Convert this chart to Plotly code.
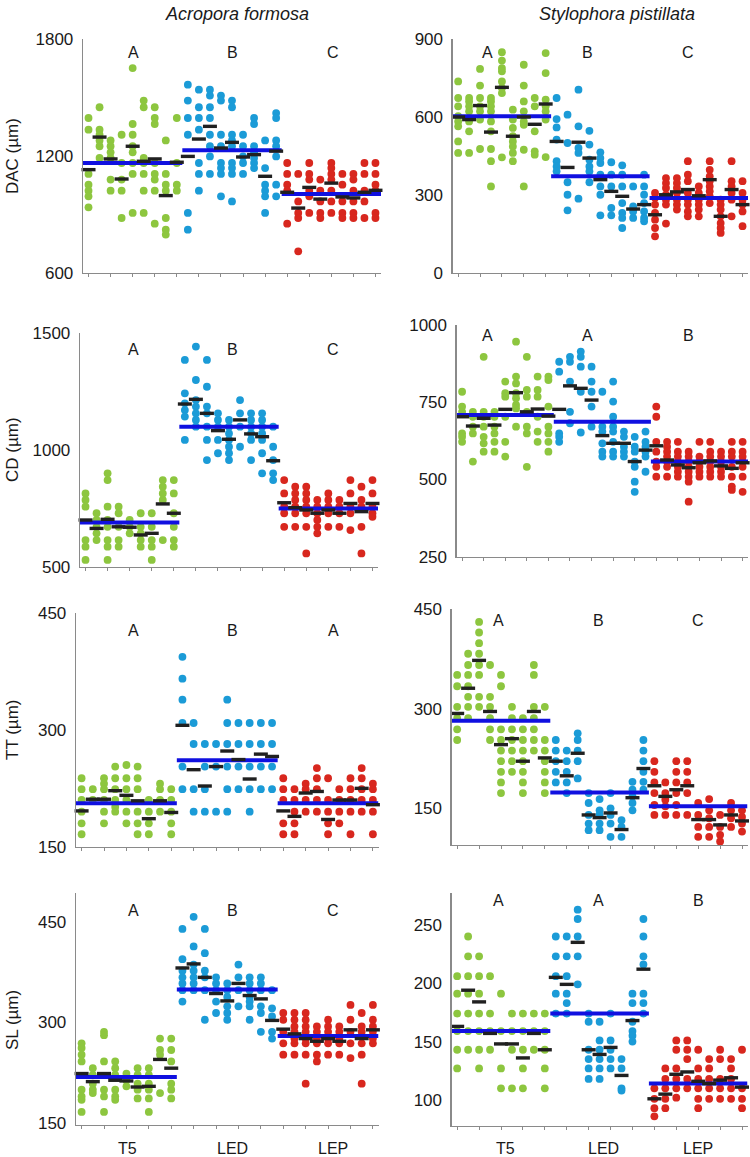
import plotly.graph_objects as go

W, H = 750, 1157

groups = ["T5", "LED", "LEP"]

# ---------------- Acropora formosa DAC ----------------
af_dac = [
    [1395, 1335, 1108, 1053, 1022, 993, 937],
    [1450, 1335, 1309, 1280, 1250, 1190],
    [1280, 1250, 1219, 1190, 1079, 1022],
    [1309, 1164, 1079, 1022, 882],
    [1651, 1364, 1309, 1250, 1219, 1164, 1108, 908],
    [1484, 1450, 1190, 1164, 1108, 1022, 908],
    [1450, 1395, 1364, 1164, 1108, 1079, 1022, 853],
    [1280, 1108, 1053, 1022, 882, 822, 797],
    [1395, 1164, 1053, 1022],
    [1566, 1484, 1395, 1309, 908, 822],
    [1540, 1450, 1395, 1335, 1164, 1108, 1022],
    [1540, 1510, 1450, 1395, 1309, 1250, 1198, 1108],
    [1510, 1484, 1309, 1250, 1164, 1138, 1108, 993],
    [1484, 1450, 1309, 1280, 1250, 1164, 1138, 1108, 967],
    [1309, 1250, 1198, 1164, 1108],
    [1395, 1364, 1250, 1219, 1190, 1164, 1138],
    [1280, 1138, 1053, 1022, 993, 908],
    [1420, 1395, 1280, 1250, 1198, 1053, 993],
    [1164, 1108, 1053, 1022, 853],
    [1108, 967, 908, 882, 711],
    [1164, 1108, 1079, 1022, 993, 908],
    [1079, 1022, 967, 908, 882],
    [1164, 1138, 1108, 1079, 1022, 967, 908],
    [1108, 1053, 967, 908, 882],
    [1108, 1079, 1022, 967, 908, 882],
    [1164, 1108, 1022, 967, 882],
    [1164, 1108, 1053, 1022, 908, 882],
]
af_dac_means = [1130, 1297, 1185, 1082, 1250, 1173, 1185, 997, 1168,
                1198, 1287, 1352, 1241, 1270, 1195, 1207, 1096, 1225,
                1014, 933, 1039, 979, 1061, 990, 985, 1014, 1024]
af_dac_group = [1164, 1229, 1005]
af_dac_letters = ["A", "B", "C"]

# ---------------- Stylophora pistillata DAC ----------------
sp_dac = [
    [737, 673, 641, 603, 583, 564, 506, 462],
    [673, 660, 641, 622, 583, 545, 462],
    [785, 721, 673, 641, 622, 590, 477],
    [673, 660, 641, 622, 583, 545, 477, 430, 333],
    [849, 817, 788, 776, 737, 712, 692, 445],
    [628, 590, 558, 526, 506, 487, 462, 430],
    [801, 721, 660, 622, 583, 570, 474, 333],
    [673, 641, 545, 468, 455],
    [846, 769, 667, 641, 622, 590, 446],
    [673, 592, 560, 513, 430, 410, 391],
    [609, 500, 349, 301, 241],
    [705, 564, 481, 462, 286],
    [547, 494, 436, 410, 391, 349],
    [464, 442, 423, 378, 333, 301, 222],
    [426, 378, 333, 250, 222],
    [414, 378, 333, 269, 231, 212, 173],
    [333, 256, 237, 212],
    [378, 333, 301, 269, 237, 212, 199],
    [308, 289, 263, 231, 205, 173, 141],
    [365, 346, 327, 301, 282, 263, 190],
    [365, 346, 327, 308, 282, 263, 244],
    [430, 378, 353, 308, 282, 263, 237, 218],
    [333, 308, 282, 263, 244, 218],
    [430, 397, 372, 353, 333, 314, 295, 269],
    [282, 263, 244, 218, 192, 173, 154],
    [430, 353, 333, 308, 282, 218],
    [353, 308, 282, 263, 237, 180],
]
sp_dac_means = [600, 590, 644, 542, 714, 526, 600, 572, 650,
                506, 406, 503, 442, 359, 314, 295, 246, 263,
                224, 301, 312, 321, 297, 359, 218, 321, 263]
sp_dac_group = [603, 372, 288]
sp_dac_letters = ["A", "B", "C"]

# ---------------- Acropora formosa CD ----------------
af_cd = [
    [814, 786, 757, 614, 586, 529],
    [729, 700, 671, 643, 614],
    [900, 871, 757, 700, 671, 614, 586, 529],
    [757, 729, 671, 614, 586],
    [700, 671, 643],
    [729, 671, 643, 614, 586],
    [729, 671, 614, 586, 529],
    [871, 843, 814, 786, 614],
    [871, 814, 729, 671, 614, 586],
    [1386, 1243, 1200, 1171, 1143, 1043],
    [1443, 1300, 1214, 1186, 1157, 1129, 1100],
    [1386, 1271, 1186, 1157, 1100, 1043, 957],
    [1157, 1129, 1100, 1043, 986],
    [1129, 1100, 1071, 1043, 1014, 986, 957],
    [1214, 1157, 1100, 1014],
    [1157, 1129, 1100, 1071, 1043, 957],
    [1157, 1129, 1100, 1071, 1043, 986, 900],
    [1100, 1014, 957, 900, 871],
    [871, 814, 757, 729, 671],
    [843, 814, 786, 757, 729, 671],
    [843, 814, 786, 757, 729, 671, 557],
    [786, 757, 729, 700, 671, 643],
    [814, 786, 757, 729, 671],
    [786, 757, 729, 671],
    [871, 814, 757, 729, 657],
    [843, 786, 757, 671, 557],
    [871, 814, 757, 729, 714],
]
af_cd_means = [700, 664, 703, 671, 669, 636, 643, 769, 729,
               1197, 1217, 1157, 1083, 1046, 1129, 1069, 1057, 954,
               774, 753, 743, 729, 743, 729, 771, 736, 771]
af_cd_group = [689, 1100, 749]
af_cd_letters = ["A", "B", "C"]

# ---------------- Stylophora pistillata CD ----------------
sp_cd = [
    [784, 736, 719, 649, 638, 622],
    [719, 703, 671, 649, 558],
    [897, 719, 703, 671, 638, 617, 590],
    [719, 703, 671, 649, 622, 590],
    [817, 779, 768, 703, 622, 574],
    [946, 833, 811, 779, 763, 741, 730, 671],
    [897, 790, 768, 719, 671, 649, 541],
    [833, 790, 768, 703, 655, 622],
    [833, 822, 736, 671, 649, 622, 590],
    [881, 849, 649, 638, 622],
    [897, 881, 817, 719, 682],
    [914, 897, 865, 784, 652],
    [865, 817, 784, 736, 671],
    [784, 671, 655, 617, 590, 574],
    [817, 752, 703, 671, 655, 622, 590, 574],
    [655, 638, 606, 590, 574],
    [638, 606, 590, 558, 541, 493, 460],
    [655, 622, 606, 590, 574, 525],
    [736, 703, 622, 590, 558, 541, 509],
    [622, 606, 590, 574, 558, 541, 509],
    [622, 590, 574, 558, 541, 525, 509],
    [590, 574, 558, 541, 525, 509, 493, 428],
    [622, 574, 558, 541, 525, 509],
    [622, 590, 574, 558, 541, 525, 509],
    [590, 574, 558, 541, 525, 509],
    [622, 590, 574, 541, 509, 477, 466],
    [622, 590, 574, 558, 541, 509, 460],
]
sp_cd_means = [703, 673, 698, 676, 727, 781, 719, 728, 705,
               727, 803, 795, 757, 642, 617, 617, 558, 595,
               609, 563, 547, 538, 554, 560, 544, 536, 554]
sp_cd_group = [709, 687, 558]
sp_cd_letters = ["A", "A", "B"]

# ---------------- Acropora formosa TT ----------------
af_tt = [
    [238, 224, 210, 195, 180, 166],
    [224, 210],
    [238, 231, 224, 210, 195, 180],
    [253, 238, 224, 210, 201, 195],
    [255, 238, 224, 210, 195, 180],
    [253, 238, 224, 195, 180, 166],
    [210, 195, 180, 166],
    [231, 224, 210, 195],
    [224, 210, 195, 180, 166],
    [394, 366, 339, 309, 253, 224],
    [309, 282, 224, 195],
    [282, 253, 224, 195],
    [282, 253, 195],
    [339, 309, 282, 253, 224, 195],
    [309, 282, 253, 224],
    [309, 282, 253, 224, 195],
    [309, 282, 253, 224],
    [309, 282, 253, 224],
    [238, 224, 210, 180, 166],
    [224, 210, 195, 180, 166],
    [231, 224, 210, 195],
    [251, 238, 224, 210, 195],
    [238, 210, 195, 180, 166],
    [224, 210, 195, 180],
    [238, 224, 210, 195, 166],
    [251, 238, 224, 210, 195],
    [231, 224, 210, 195, 166],
]
af_tt_means = [196, 211, 211, 222, 216, 209, 186, 209, 194,
               306, 249, 228, 253, 273, 262, 237, 269, 266,
               196, 189, 219, 221, 185, 210, 210, 225, 204]
af_tt_group = [206, 261, 206]
af_tt_letters = ["A", "B", "A"]

# ---------------- Stylophora pistillata TT ----------------
sp_tt = [
    [351, 334, 303, 286, 269, 253],
    [383, 366, 351, 334, 318, 303, 286],
    [431, 415, 399, 383, 366, 351, 318, 303],
    [366, 318, 303, 286, 269, 253],
    [351, 334, 269, 253, 237, 221, 205, 189, 173],
    [303, 286, 269, 253, 237, 221, 205],
    [286, 269, 253, 237, 221, 205, 189, 173],
    [366, 351, 303, 286, 269, 253, 237],
    [303, 253, 237, 221, 205, 189, 173],
    [253, 237, 221, 205, 189],
    [237, 221, 205, 189, 173],
    [263, 253, 237, 221, 195],
    [173, 158, 140, 127, 117],
    [164, 147, 140, 127, 117],
    [173, 150, 140, 127, 107],
    [132, 122, 107],
    [190, 178, 168, 158, 147],
    [253, 237, 221, 205, 190, 178],
    [221, 205, 189, 173, 155, 140],
    [189, 173, 163, 153, 140],
    [221, 205, 189, 173, 155, 140],
    [221, 205, 189, 173, 140],
    [158, 140, 122, 107],
    [164, 147, 135, 122, 107],
    [140, 122, 110, 100],
    [158, 147, 135, 122],
    [147, 137, 127, 115],
]
sp_tt_means = [293, 331, 373, 296, 246, 255, 221, 296, 226,
               221, 199, 233, 140, 136, 143, 118, 166, 210,
               184, 168, 178, 184, 133, 133, 125, 140, 131]
sp_tt_group = [282, 174, 153]
sp_tt_letters = ["A", "B", "C"]

# ---------------- Acropora formosa SL ----------------
af_sl = [
    [269, 262, 252, 242, 200, 190, 185, 167],
    [232, 222, 209, 200, 195],
    [286, 281, 242, 200, 190, 167],
    [242, 232, 222, 200, 190, 185],
    [224, 214, 205],
    [232, 222, 209, 200, 187],
    [232, 222, 209, 200, 187, 167],
    [276, 259, 252, 195],
    [276, 259, 242, 209, 200, 187],
    [439, 394, 377, 367, 358, 348, 331],
    [457, 413, 386, 377, 367, 358, 348],
    [439, 403, 377, 367, 348, 304],
    [367, 358, 348, 331, 314],
    [358, 348, 338, 324, 314, 304],
    [386, 367, 348, 324],
    [367, 358, 348, 338, 331, 324, 304],
    [367, 358, 348, 324, 314, 286],
    [348, 321, 309, 286, 276],
    [314, 304, 286, 269, 252],
    [314, 304, 294, 286, 276, 269, 252],
    [314, 304, 294, 286, 276, 269, 252, 209],
    [294, 286, 276, 269, 252, 242],
    [304, 294, 286, 276, 269, 252],
    [294, 286, 276, 269, 252],
    [326, 304, 286, 269, 247],
    [314, 294, 286, 269, 252, 209],
    [326, 304, 294, 286, 276, 269],
]
af_sl_means = [224, 212, 224, 214, 213, 204, 205, 245, 232,
               381, 387, 367, 343, 332, 358, 340, 335, 303,
               290, 283, 276, 272, 276, 272, 289, 276, 289]
af_sl_group = [219, 349, 280]
af_sl_letters = ["A", "B", "C"]

# ---------------- Stylophora pistillata SL ----------------
sp_sl = [
    [206, 191, 174, 159, 143, 127],
    [240, 223, 206, 191, 174, 159, 143],
    [223, 206, 191, 174, 159, 143, 127],
    [206, 174, 159, 143],
    [191, 159, 127, 110],
    [174, 159, 143, 110],
    [174, 159, 143, 127, 110],
    [174, 159, 143],
    [174, 159, 143, 127, 110],
    [240, 223, 206, 191, 174],
    [240, 223, 206, 191, 183, 174],
    [263, 255, 240, 223, 199],
    [174, 167, 143, 135, 127, 118],
    [167, 151, 143, 135, 127, 118],
    [174, 151, 143, 135, 127],
    [135, 127, 110, 108],
    [191, 183, 167, 159, 155, 150],
    [255, 240, 223, 216, 191, 183, 174],
    [110, 101, 93, 86],
    [127, 118, 110, 101, 93],
    [151, 143, 127, 118, 110, 102],
    [151, 143, 135, 118, 110],
    [143, 127, 118, 110, 101, 93],
    [135, 127, 118, 110, 101],
    [143, 135, 118, 110, 101],
    [135, 127, 118, 110, 101],
    [143, 110, 101, 93],
]
sp_sl_means = [163, 194, 184, 157, 148, 148, 136, 157, 143,
               205, 199, 235, 143, 139, 145, 121, 168, 212,
               101, 105, 122, 124, 116, 114, 117, 119, 111]
sp_sl_group = [159, 174, 114]
sp_sl_letters = ["A", "A", "B"]

species = ["Acropora formosa", "Stylophora pistillata"]
y_titles = ["DAC (µm)", "CD (µm)", "TT (µm)", "SL (µm)"]

# ---------------- layout configuration (pixels) ----------------
panels = [
    dict(cols=af_dac, means=af_dac_means, grp=af_dac_group, letters=af_dac_letters,
         box=(83, 381, 39, 273), yr=[600, 1800], ticks=[600, 1200, 1800],
         lx=[133, 233, 333], ly=52),
    dict(cols=sp_dac, means=sp_dac_means, grp=sp_dac_group, letters=sp_dac_letters,
         box=(452.7, 748, 39, 273), yr=[0, 900], ticks=[0, 300, 600, 900],
         lx=[487, 587, 688], ly=52),
    dict(cols=af_cd, means=af_cd_means, grp=af_cd_group, letters=af_cd_letters,
         box=(80, 378, 333.3, 566.7), yr=[500, 1500], ticks=[500, 1000, 1500],
         lx=[133, 233, 333], ly=350),
    dict(cols=sp_cd, means=sp_cd_means, grp=sp_cd_group, letters=sp_cd_letters,
         box=(456.7, 748, 325, 556.7), yr=[250, 1000], ticks=[250, 500, 750, 1000],
         lx=[487, 587, 688], ly=335),
    dict(cols=af_tt, means=af_tt_means, grp=af_tt_group, letters=af_tt_letters,
         box=(76, 378.5, 613.3, 846.7), yr=[150, 450], ticks=[150, 300, 450],
         lx=[133, 233, 333], ly=630),
    dict(cols=sp_tt, means=sp_tt_means, grp=sp_tt_group, letters=sp_tt_letters,
         box=(451.7, 747.5, 609.3, 845), yr=[94.7, 450], ticks=[150, 300, 450],
         lx=[498, 598, 698], ly=620),
    dict(cols=af_sl, means=af_sl_means, grp=af_sl_group, letters=af_sl_letters,
         box=(76, 378.5, 893.3, 1125), yr=[147.5, 492], ticks=[150, 300, 450],
         lx=[133, 233, 333], ly=910),
    dict(cols=sp_sl, means=sp_sl_means, grp=sp_sl_group, letters=sp_sl_letters,
         box=(451.7, 747.5, 893.3, 1126), yr=[77.7, 277], ticks=[100, 150, 200, 250],
         lx=[498, 598, 698], ly=900),
]

colors = ["#8DC63F", "#1B9BD7", "#D8271E"]
FONT = "Liberation Sans, Arial, sans-serif"
TXT = "#1a1a1a"
AXC = "#8a8a8a"

fig = go.Figure()
annotations = []
layout_axes = {}

for i, p in enumerate(panels):
    n = i + 1
    xa = "x" if n == 1 else f"x{n}"
    ya = "y" if n == 1 else f"y{n}"
    l, r, t, b = p["box"]
    # dots per group
    for g in range(3):
        xs, ys = [], []
        for c in range(9):
            ci = g * 9 + c
            for v in p["cols"][ci]:
                xs.append(ci + 1)
                ys.append(v)
        fig.add_trace(go.Scatter(
            x=xs, y=ys, mode="markers", xaxis=xa, yaxis=ya, showlegend=False,
            marker=dict(size=7.8, color=colors[g], line=dict(width=0)),
            hoverinfo="skip", cliponaxis=False))
    # group mean lines
    lx, ly = [], []
    for g in range(3):
        lx += [g * 9 + 0.5, g * 9 + 9.5, None]
        ly += [p["grp"][g], p["grp"][g], None]
    fig.add_trace(go.Scatter(
        x=lx, y=ly, mode="lines", xaxis=xa, yaxis=ya, showlegend=False,
        line=dict(color="#1010E0", width=4), hoverinfo="skip"))
    # colony means
    fig.add_trace(go.Scatter(
        x=list(range(1, 28)), y=p["means"], mode="markers", xaxis=xa, yaxis=ya,
        showlegend=False, hoverinfo="skip", cliponaxis=False,
        marker=dict(symbol="line-ew", size=10, line=dict(width=3.4, color="#202020"))))

    xk = "xaxis" if n == 1 else f"xaxis{n}"
    yk = "yaxis" if n == 1 else f"yaxis{n}"
    layout_axes[xk] = dict(
        domain=[l / W, r / W], range=[0.5, 27.5], anchor=ya, automargin=False,
        showline=True, linecolor=AXC, linewidth=1.3, showgrid=False, zeroline=False,
        tickvals=list(range(1, 28, 2)), ticks="outside", ticklen=3, tickwidth=1,
        tickcolor=AXC, showticklabels=False, fixedrange=True)
    layout_axes[yk] = dict(
        domain=[1 - b / H, 1 - t / H], range=p["yr"], anchor=xa, automargin=False,
        showline=True, linecolor=AXC, linewidth=1.3, showgrid=False, zeroline=False,
        tickvals=p["ticks"], ticks="", ticklabelstandoff=5,
        tickfont=dict(family=FONT, size=17, color=TXT), fixedrange=True)
    # significance letters
    for g in range(3):
        annotations.append(dict(
            x=p["lx"][g] / W, y=1 - p["ly"] / H, xref="paper", yref="paper",
            text=p["letters"][g], showarrow=False, xanchor="center", yanchor="middle",
            font=dict(family=FONT, size=16, color=TXT)))

# species titles
for k, (sx, name) in enumerate(zip([237, 617], species)):
    annotations.append(dict(
        x=sx / W, y=1 - 14 / H, xref="paper", yref="paper", showarrow=False,
        text=f"<i>{name}</i>", xanchor="center", yanchor="middle",
        font=dict(family=FONT, size=18, color=TXT)))

# y-axis titles (left column)
for ty, title in zip([156, 450, 730, 1020], y_titles):
    annotations.append(dict(
        x=12 / W, y=1 - ty / H, xref="paper", yref="paper", showarrow=False,
        text=title, textangle=-90, xanchor="center", yanchor="middle",
        font=dict(family=FONT, size=17, color=TXT)))

# treatment labels (bottom row)
for xs_px in ([127, 233, 333], [505, 603, 698]):
    for gx, gname in zip(xs_px, groups):
        annotations.append(dict(
            x=gx / W, y=1 - 1148 / H, xref="paper", yref="paper", showarrow=False,
            text=gname, xanchor="center", yanchor="middle",
            font=dict(family=FONT, size=16, color=TXT)))

fig.update_layout(
    template="none",
    width=W, height=H, margin=dict(l=0, r=0, t=0, b=0, autoexpand=False),
    paper_bgcolor="white", plot_bgcolor="white",
    annotations=annotations, **layout_axes)

fig.write_html(
    "out.html",
    config={"displayModeBar": False, "staticPlot": True},
    post_script="document.body.style.margin='0';document.body.style.padding='0';"
                "document.documentElement.style.overflow='hidden';")
